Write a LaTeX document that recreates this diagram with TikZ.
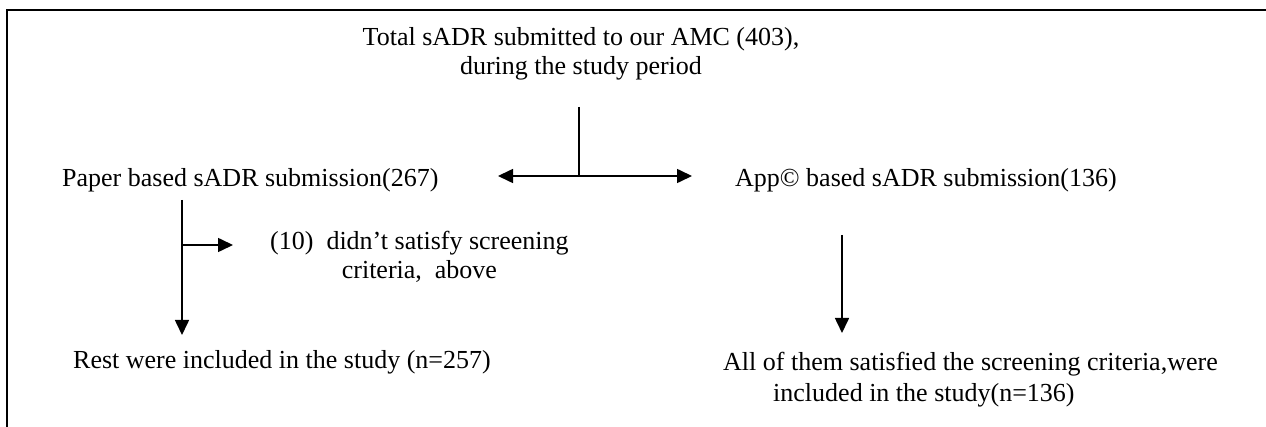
\documentclass[tikz,border=0pt]{standalone}
\usepackage{fontspec}
\setmainfont{Liberation Serif}
\usetikzlibrary{arrows.meta}
\begin{document}
\begin{tikzpicture}[x=1pt,y=-1pt,
  txt/.style={font=\fontsize{26}{29}\selectfont, inner sep=0pt, align=center},
  ln/.style={line width=1.6pt},
  arr/.style={ln, -{Triangle[length=15pt,width=14pt]}}]
\useasboundingbox (0,0) rectangle (1266,427);
\draw[line width=1.2pt] (7,427) -- (7,10) -- (1266,10);
\node[txt] (total) at (581,54) {Total sADR submitted to our AMC (403),\\during the study period};
\node[txt, anchor=west] (paper) at (62,180) {Paper based sADR submission(267)};
\node[txt, anchor=west] (app) at (735,180) {App© based sADR submission(136)};
\node[txt, anchor=west] (screen) at (270,257) {(10)~ didn’t satisfy screening\\criteria,~ above};
\node[txt, anchor=west] (rest) at (73,362) {Rest were included in the study (n=257)};
\node[txt, anchor=west, align=left, font=\fontsize{26}{31}\selectfont] (all) at (723,380) {All of them satisfied the screening criteria,were\\\hspace*{50pt}included in the study(n=136)};
\coordinate (topstart) at (579,107);
\coordinate (junc) at (579,176);
\coordinate (ltip) at (498,176);
\coordinate (rtip) at (692,176);
\coordinate (pstart) at (182,200);
\coordinate (ptip) at (182,335);
\coordinate (branch) at (182,245);
\coordinate (btip) at (233,245);
\coordinate (astart) at (842,235);
\coordinate (atip) at (842,333);
\draw[ln] (topstart) -- (junc);
\draw[arr] (junc) -- (ltip);
\draw[arr] (junc) -- (rtip);
\draw[arr] (pstart) -- (ptip);
\draw[arr] (branch) -- (btip);
\draw[arr] (astart) -- (atip);
\end{tikzpicture}
\end{document}
